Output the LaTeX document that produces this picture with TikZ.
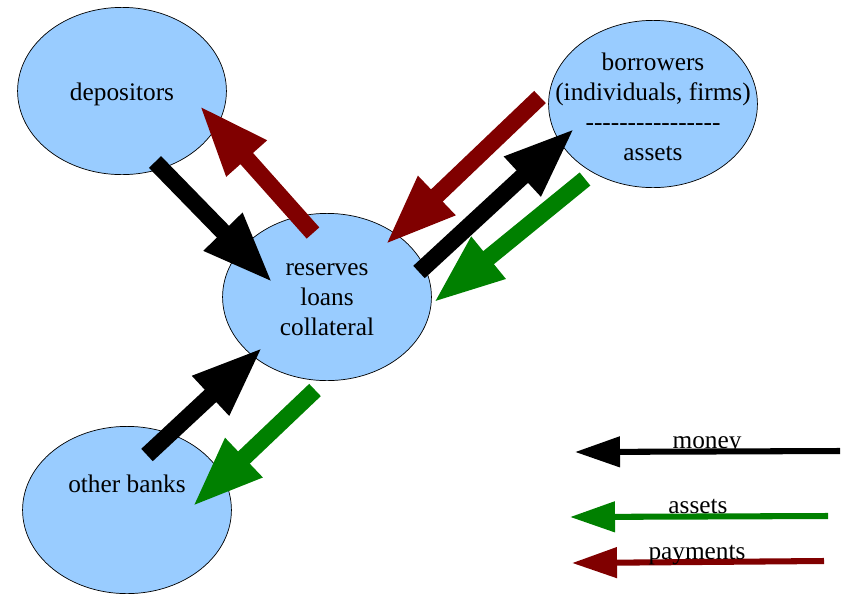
\documentclass[tikz,border=0pt]{standalone}
\usepackage{fontspec}
\setmainfont{Liberation Serif}
\usepackage{xcolor}
\usepackage{tikz}
\usetikzlibrary{shapes, arrows.meta, positioning}

\definecolor{partyblue}{HTML}{99CCFF}
\definecolor{assetgreen}{HTML}{008000}
\definecolor{payred}{HTML}{800000}

\begin{document}
\begin{tikzpicture}[
  x=0.025cm, y=-0.025cm,
  party/.style={ellipse, draw, line width=0.5pt, fill=partyblue,
                minimum width=5.22cm, minimum height=4.18cm},
  txt/.style={anchor=base, align=center, inner sep=0pt,
              font=\fontsize{18}{21.3}\selectfont},
  flow/.style={-{Triangle[length=51pt, width=35pt]}, line width=12pt},
  key/.style={-{Triangle[length=32pt, width=21pt]}, line width=4.3pt},
]
\useasboundingbox (0,0) rectangle (848,594);

\node[party] (dep) at (122,91)  {};
\node[party] (res) at (327,297) {};
\node[party] (bor) at (653,104) {};
\node[party] (oth) at (127,510) {};

% base = last line
\node[txt] (dep-t) at (122,100) {depositors};
\node[txt] (res-t) at (327,335) {reserves\\loans\\collateral};
\node[txt] (bor-t) at (653,160) {borrowers\\(individuals, firms)\\-{}-{}-{}-{}-{}-{}-{}-{}-{}-{}-{}-{}-{}-{}-{}-\\assets};
\node[txt] (oth-t) at (127,492) {other banks};

% arrow ends
\coordinate (dep-m)  at (155,162); \coordinate (res-m1) at (273,283);
\coordinate (res-p1) at (313,233); \coordinate (dep-p)  at (199,105);
\coordinate (bor-p)  at (540,97);  \coordinate (res-p2) at (385,245);
\coordinate (res-m2) at (419,272); \coordinate (bor-m)  at (575,128);
\coordinate (bor-a)  at (585,179); \coordinate (res-a1) at (433,303);
\coordinate (oth-m)  at (147,455); \coordinate (res-m3) at (263,347);
\coordinate (res-a2) at (315,390); \coordinate (oth-a)  at (192,507);

\draw[flow]                  (dep-m)  -- (res-m1);
\draw[flow, payred]          (res-p1) -- (dep-p);
\draw[flow, payred]          (bor-p)  -- (res-p2);
\draw[flow]                  (res-m2) -- (bor-m);
\draw[flow, assetgreen]      (bor-a)  -- (res-a1);
\draw[flow]                  (oth-m)  -- (res-m3);
\draw[flow, assetgreen]      (res-a2) -- (oth-a);

% legend
\coordinate (km-from) at (840,451); \coordinate (km-to) at (575,452);
\coordinate (ka-from) at (828,516); \coordinate (ka-to) at (570,517);
\coordinate (kp-from) at (824,561); \coordinate (kp-to) at (572,563);

\draw[key]             (km-from) -- (km-to);
\draw[key, assetgreen] (ka-from) -- (ka-to);
\draw[key, payred]     (kp-from) -- (kp-to);

\node[txt] (km-t) at (707,448) {money};
\node[txt] (ka-t) at (698,513) {assets};
\node[txt] (kp-t) at (697,559) {payments};
\end{tikzpicture}
\end{document}
